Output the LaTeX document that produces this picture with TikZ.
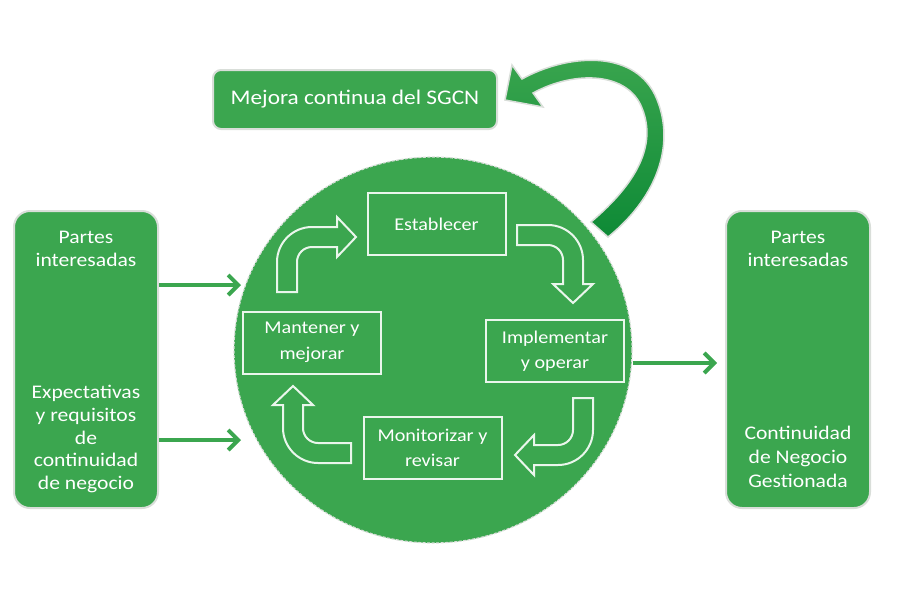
\documentclass[tikz,border=0pt]{standalone}
\usepackage{fontspec}
\setmainfont{Carlito}[FakeStretch=1.12]
\usetikzlibrary{arrows.meta,shapes.geometric,calc}
\definecolor{gfill}{HTML}{3BA64F}
\definecolor{gdark}{HTML}{0E8A36}
\definecolor{gborder}{HTML}{D9DED9}
\definecolor{wline}{HTML}{EAF6EC}
\begin{document}
\begin{tikzpicture}[x=1pt,y=-1pt,
  sidebox/.style={draw=gborder, line width=2pt, fill=gfill, rounded corners=16pt, minimum width=144pt, minimum height=297pt, inner sep=0pt},
  topbox/.style={draw=gborder, line width=2pt, fill=gfill, rounded corners=8pt, minimum width=284pt, minimum height=59pt, inner sep=0pt, text=white, font=\fontsize{20.8}{26}\selectfont},
  sidetext/.style={text=white, align=center, font=\fontsize{19.3}{22.8}\selectfont, inner sep=0pt},
  stepbox/.style={draw=wline, line width=2pt, minimum width=138pt, minimum height=62pt, inner sep=0pt, text=white, align=center, font=\fontsize{18}{25.5}\selectfont},
  bent/.style={draw=wline, line width=2pt, line join=miter},
  conn/.style={draw=gfill, line width=4pt, -{Straight Barb[length=10pt,width=20pt]}}
]
\useasboundingbox (0,0) rectangle (900,600);

% central cycle
\node[ellipse, draw=gborder, dash pattern=on 3pt off 1.5pt, line width=1.2pt, fill=gfill,
      minimum width=398pt, minimum height=386pt, inner sep=0pt] (C) at (433,350) {};

% big curved arrow
\shadedraw[top color=gfill, bottom color=gdark, draw=gborder, line width=1.5pt, line join=miter]
  (522,79) .. controls (565,55) and (632,48) .. (655,95)
  .. controls (676,140) and (660,195) .. (608,237)
  -- (591,222) .. controls (637,183) and (657,145) .. (642,108)
  .. controls (628,72) and (575,70) .. (533,93)
  -- (543,107) -- (505,100) -- (512,65) -- cycle;

% boxes
\node[sidebox] (L) at (86,359.5) {};
\node[sidebox] (R) at (798,359.5) {};
\node[topbox] (T) at (355,99.5) {Mejora continua del SGCN};

\node[sidetext] (Lt1) at (86,249) {Partes\\interesadas};
\node[sidetext] (Lt2) at (86,439) {Expectativas\\y requisitos\\de\\continuidad\\de negocio};
\node[sidetext] (Rt1) at (798,249) {Partes\\interesadas};
\node[sidetext, font=\fontsize{19.3}{23.8}\selectfont] (Rt2) at (798,457) {Continuidad\\de Negocio\\Gestionada};

% steps
\node[stepbox] (E) at (436.5,224) {Establecer};
\node[stepbox] (I) at (555,351) {Implementar\\y operar};
\node[stepbox] (M) at (432.5,448) {Monitorizar y\\revisar};
\node[stepbox] (K) at (312,342.5) {Mantener y\\mejorar};

% bent block arrows
\draw[bent] (277,292) -- (277,262) .. controls (277,242.7) and (292.7,227) .. (312,227)
  -- (337,227) -- (337,217) -- (356,237) -- (337,257) -- (337,247) -- (312,247)
  .. controls (303.7,247) and (297,253.7) .. (297,262) -- (297,292) -- cycle;
\draw[bent] (517,225) -- (548,225) .. controls (567.3,225) and (583,240.7) .. (583,260)
  -- (583,284) -- (593,284) -- (573,303) -- (553,284) -- (563,284) -- (563,260)
  .. controls (563,251.7) and (556.3,245) .. (548,245) -- (517,245) -- cycle;
\draw[bent] (573,398) -- (593,398) -- (593,430) .. controls (593,449.3) and (577.3,465) .. (558,465)
  -- (534,465) -- (534,475) -- (515,455) -- (534,435) -- (534,445) -- (558,445)
  .. controls (566.3,445) and (573,438.3) .. (573,430) -- cycle;
\draw[bent] (351,443) -- (351,463) -- (318,463) .. controls (298.7,463) and (283,447.3) .. (283,428)
  -- (283,405) -- (273,405) -- (293,386) -- (313,405) -- (303,405) -- (303,428)
  .. controls (303,436.3) and (309.7,443) .. (318,443) -- cycle;

% connectors
\coordinate (in1) at (241,285);
\coordinate (in2) at (241,440);
\coordinate (out1) at (717,363);
\draw[conn] (L.east |- in1) -- (in1);
\draw[conn] (L.east |- in2) -- (in2);
\draw[conn] (C.east |- out1) -- (out1);
\end{tikzpicture}
\end{document}
